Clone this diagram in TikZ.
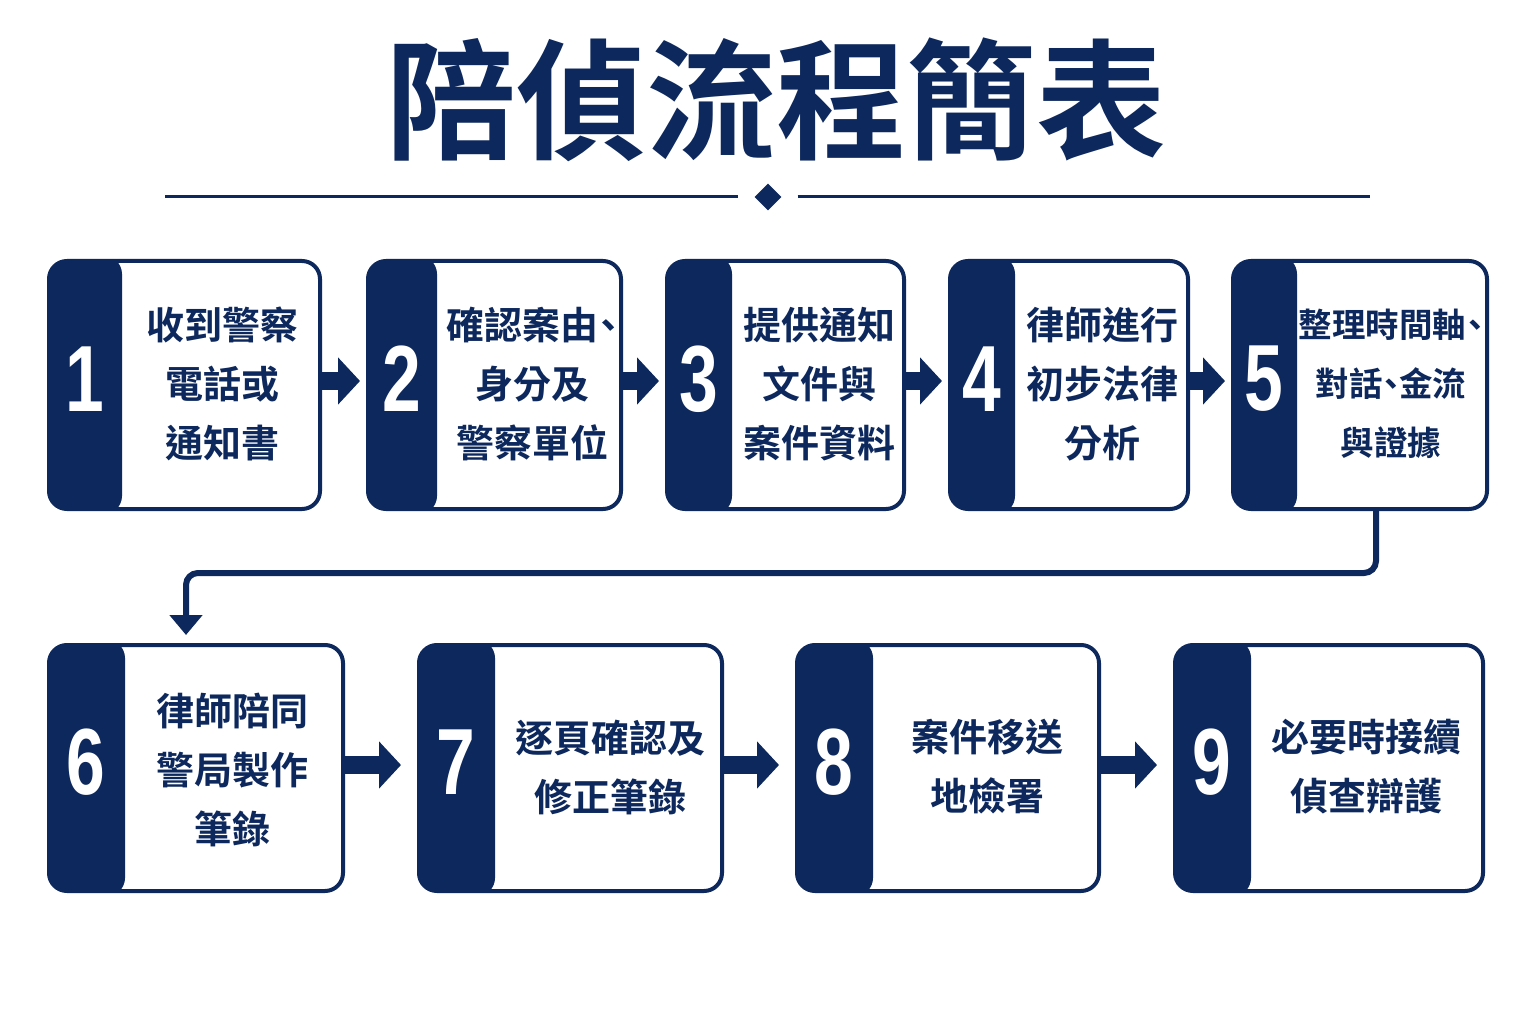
\documentclass[tikz,border=0pt]{standalone}
\usepackage{graphicx}
\usepackage{fontspec}
\setmainfont{Liberation Sans}
\newfontfamily\cjk{Noto Sans CJK TC Bold}[RawFeature=+halt]
\newfontfamily\cjktitle{Noto Sans CJK TC Bold}
\usetikzlibrary{arrows.meta,shapes.geometric}
\definecolor{navy}{RGB}{13,40,92}
\begin{document}
\begin{tikzpicture}[x=1pt,y=-1pt,
  stepbox/.style={draw=navy, line width=4pt, fill=white, rounded corners=18pt, inner sep=0pt,
    path picture={\fill[navy] ([xshift=-5pt,yshift=5pt]path picture bounding box.north west) rectangle ([xshift=#1,yshift=-5pt]path picture bounding box.south west);}},
  num/.style={text=white, font=\fontsize{94}{94}\selectfont\bfseries, inner sep=0pt},
  lbl/.style={text=navy, font=\cjk\fontsize{38}{59}\selectfont, align=center, inner sep=0pt},
  flow/.style={navy, line width=18pt, -{Triangle[length=22pt,width=46pt]}},
  conn/.style={navy, line width=6pt, rounded corners=12pt, -{Triangle[length=20pt,width=32pt]}},
  rule/.style={navy, line width=3pt},
]
\useasboundingbox (0,0) rectangle (1536,1024);
\fill[white] (0,0) rectangle (1536,1024);

% title
\node[text=navy, font=\cjktitle\fontsize{130}{130}\selectfont, inner sep=0pt] (title) at (776,100) {陪偵流程簡表};
\node[diamond, fill=navy, minimum size=27pt, inner sep=0pt] (dia) at (768,197) {};
\coordinate (dl) at (165,197);
\coordinate (dr) at (1370,197);
\draw[rule] (dl) -- ([xshift=-16pt]dia.west);
\draw[rule] ([xshift=16pt]dia.east) -- (dr);

% row 1 boxes
\node[stepbox=73pt, minimum width=271pt, minimum height=248pt] (b1) at (184.5,385) {};
\node[stepbox=69pt, minimum width=253pt, minimum height=248pt] (b2) at (494.5,385) {};
\node[stepbox=65pt, minimum width=237pt, minimum height=248pt] (b3) at (785.5,385) {};
\node[stepbox=65pt, minimum width=238pt, minimum height=248pt] (b4) at (1069,385) {};
\node[stepbox=64pt, minimum width=254pt, minimum height=248pt] (b5) at (1360,385) {};
% row 2 boxes
\node[stepbox=76pt, minimum width=294pt, minimum height=246pt] (b6) at (196,768) {};
\node[stepbox=76pt, minimum width=303pt, minimum height=246pt] (b7) at (570.5,768) {};
\node[stepbox=76pt, minimum width=302pt, minimum height=246pt] (b8) at (948,768) {};
\node[stepbox=76pt, minimum width=308pt, minimum height=246pt] (b9) at (1329,768) {};

% numbers
\node[num] (n1) at (84.5,379) {\scalebox{0.74}[1]{1}};
\node[num] (n2) at (401.5,379) {\scalebox{0.74}[1]{2}};
\node[num] (n3) at (698.5,379) {\scalebox{0.74}[1]{3}};
\node[num] (n4) at (981.5,379) {\scalebox{0.74}[1]{4}};
\node[num] (n5) at (1264,379) {\scalebox{0.74}[1]{5}};
\node[num] (n6) at (86,762) {\scalebox{0.74}[1]{6}};
\node[num] (n7) at (456,762) {\scalebox{0.74}[1]{7}};
\node[num] (n8) at (834,762) {\scalebox{0.74}[1]{8}};
\node[num] (n9) at (1212,762) {\scalebox{0.74}[1]{9}};

% labels
\node[lbl] (t1) at (222,384) {收到警察\\電話或\\通知書};
\node[lbl] (t2) at (532,384) {確認案由、\\身分及\\警察單位};
\node[lbl] (t3) at (819,384) {提供通知\\文件與\\案件資料};
\node[lbl] (t4) at (1102.5,384) {律師進行\\初步法律\\分析};
\node[lbl, font=\cjk\fontsize{33.5}{59}\selectfont] (t5) at (1391,384) {整理時間軸、\\對話、金流\\與證據};
\node[lbl] (t6) at (232,770) {律師陪同\\警局製作\\筆錄};
\node[lbl] (t7) at (610,767) {逐頁確認及\\修正筆錄};
\node[lbl] (t8) at (987,767) {案件移送\\地檢署};
\node[lbl] (t9) at (1366,767) {必要時接續\\偵查辯護};

% row 1 arrows
\draw[flow, shorten >=6pt] ([yshift=4pt]b1.east) -- ([yshift=4pt]b2.west);
\draw[flow, shorten >=6pt] ([yshift=4pt]b2.east) -- ([yshift=4pt]b3.west);
\draw[flow, shorten >=6pt] ([yshift=4pt]b3.east) -- ([yshift=4pt]b4.west);
\draw[flow, shorten >=6pt] ([yshift=4pt]b4.east) -- ([yshift=4pt]b5.west);
% row 2 arrows
\draw[flow, shorten >=16pt] ([yshift=3pt]b6.east) -- ([yshift=3pt]b7.west);
\draw[flow, shorten >=16pt] ([yshift=3pt]b7.east) -- ([yshift=3pt]b8.west);
\draw[flow, shorten >=16pt] ([yshift=3pt]b8.east) -- ([yshift=3pt]b9.west);

% connector 5 -> 6
\coordinate (c1) at (1376,573);
\coordinate (c2) at (186,573);
\draw[conn, shorten >=8pt] ([xshift=16pt]b5.south) -- (c1) -- (c2) -- ([xshift=-10pt]b6.north);
\end{tikzpicture}
\end{document}
